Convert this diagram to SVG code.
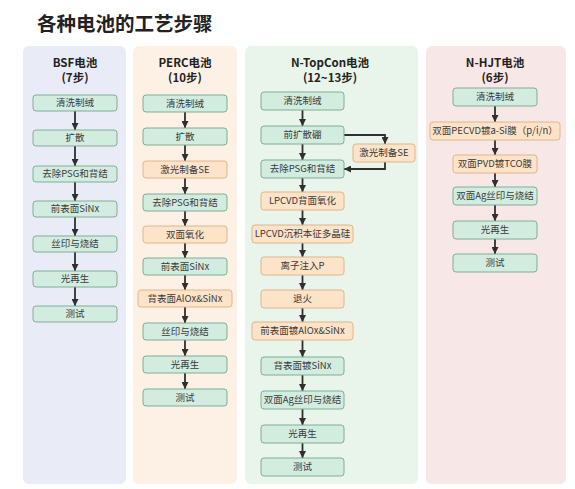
<svg xmlns="http://www.w3.org/2000/svg" width="575" height="489" viewBox="0 0 575 489">
<defs>
<marker id="ah" viewBox="0 0 10 10" refX="10" refY="5" markerWidth="7" markerHeight="7" orient="auto" markerUnits="userSpaceOnUse">
<path d="M0,0 L10,5 L0,10 z" fill="#2f2f2f"/>
</marker>
<style>
.t{font-family:"Noto Sans CJK SC","Liberation Sans",sans-serif;fill:#3a3a3a;font-size:9.5px;text-anchor:middle}
.h{font-family:"Noto Sans CJK SC","Liberation Sans",sans-serif;fill:#222;font-size:11.5px;font-weight:bold;text-anchor:middle}
.g{fill:#d3ece0;stroke:#7fae95;stroke-width:1}
.o{fill:#fde3c8;stroke:#e2b48a;stroke-width:1}
.c line,.c polyline{stroke:#2f2f2f;stroke-width:1.8;fill:none;marker-end:url(#ah)}
</style>
</defs>
<rect width="575" height="489" fill="#fff"/>
<text x="37" y="31" style="font-family:'Noto Sans CJK SC',sans-serif;font-size:19.5px;font-weight:bold;fill:#222">各种电池的工艺步骤</text>

<g id="panels">
<rect x="23" y="46" width="103" height="438" rx="6" fill="#e9ecf7"/>
<rect x="133" y="46" width="104" height="438" rx="6" fill="#fdf1e6"/>
<rect x="245" y="46" width="173" height="438" rx="6" fill="#e9f4ea"/>
<rect x="426" y="46" width="140" height="438" rx="6" fill="#f8e7e7"/>
<text class="h" x="75" y="67">BSF电池</text><text class="h" x="75" y="82">(7步)</text>
<text class="h" x="185" y="67">PERC电池</text><text class="h" x="185" y="82">(10步)</text>
<text class="h" x="330" y="67">N-TopCon电池</text><text class="h" x="330" y="82">(12~13步)</text>
<text class="h" x="495" y="67">N-HJT电池</text><text class="h" x="495" y="82">(6步)</text>
</g>

<g class="c" id="connectors">
<line x1="75" y1="111" x2="75" y2="130"/>
<line x1="75" y1="146" x2="75" y2="166"/>
<line x1="75" y1="182" x2="75" y2="201"/>
<line x1="75" y1="217" x2="75" y2="236"/>
<line x1="75" y1="252" x2="75" y2="271"/>
<line x1="75" y1="287" x2="75" y2="306"/>
<line x1="185" y1="112" x2="185" y2="128"/>
<line x1="185" y1="145" x2="185" y2="161"/>
<line x1="185" y1="178" x2="185" y2="194"/>
<line x1="185" y1="211" x2="185" y2="226"/>
<line x1="185" y1="243" x2="185" y2="258"/>
<line x1="185" y1="275" x2="185" y2="290"/>
<line x1="185" y1="307" x2="185" y2="323"/>
<line x1="185" y1="340" x2="185" y2="356"/>
<line x1="185" y1="373" x2="185" y2="389"/>
<line x1="302.5" y1="110" x2="302.5" y2="126"/>
<line x1="302.5" y1="144" x2="302.5" y2="160"/>
<polyline points="344,135 385,135 385,144"/>
<polyline points="385,162 385,169 344,169"/>
<line x1="302.5" y1="178" x2="302.5" y2="192"/>
<line x1="302.5" y1="210" x2="302.5" y2="225"/>
<line x1="302.5" y1="243" x2="302.5" y2="257"/>
<line x1="302.5" y1="275" x2="302.5" y2="290"/>
<line x1="302.5" y1="308" x2="302.5" y2="322"/>
<line x1="302.5" y1="340" x2="302.5" y2="357"/>
<line x1="302.5" y1="375" x2="302.5" y2="391"/>
<line x1="302.5" y1="409" x2="302.5" y2="425"/>
<line x1="302.5" y1="443" x2="302.5" y2="458"/>
<line x1="495" y1="106" x2="495" y2="122"/>
<line x1="495" y1="140" x2="495" y2="155"/>
<line x1="495" y1="173" x2="495" y2="187"/>
<line x1="495" y1="205" x2="495" y2="221"/>
<line x1="495" y1="239" x2="495" y2="254"/>
</g>

<g id="bsf1"><rect class="g" x="33" y="95" width="84" height="16" rx="3"/><text class="t" x="75" y="106.3">清洗制绒</text></g>
<g id="bsf2"><rect class="g" x="33" y="130" width="84" height="16" rx="3"/><text class="t" x="75" y="141.3">扩散</text></g>
<g id="bsf3"><rect class="g" x="33" y="166" width="84" height="16" rx="3"/><text class="t" x="75" y="177.3">去除PSG和背结</text></g>
<g id="bsf4"><rect class="g" x="33" y="201" width="84" height="16" rx="3"/><text class="t" x="75" y="212.3">前表面SiNx</text></g>
<g id="bsf5"><rect class="g" x="33" y="236" width="84" height="16" rx="3"/><text class="t" x="75" y="247.3">丝印与烧结</text></g>
<g id="bsf6"><rect class="g" x="33" y="271" width="84" height="16" rx="3"/><text class="t" x="75" y="282.3">光再生</text></g>
<g id="bsf7"><rect class="g" x="33" y="306" width="84" height="16" rx="3"/><text class="t" x="75" y="317.3">测试</text></g>

<g id="perc1"><rect class="g" x="143" y="95" width="84" height="17" rx="3"/><text class="t" x="185" y="106.8">清洗制绒</text></g>
<g id="perc2"><rect class="g" x="143" y="128" width="84" height="17" rx="3"/><text class="t" x="185" y="139.8">扩散</text></g>
<g id="perc3"><rect class="o" x="143" y="161" width="84" height="17" rx="3"/><text class="t" x="185" y="172.8">激光制备SE</text></g>
<g id="perc4"><rect class="g" x="143" y="194" width="84" height="17" rx="3"/><text class="t" x="185" y="205.8">去除PSG和背结</text></g>
<g id="perc5"><rect class="o" x="143" y="226" width="84" height="17" rx="3"/><text class="t" x="185" y="237.8">双面氧化</text></g>
<g id="perc6"><rect class="g" x="143" y="258" width="84" height="17" rx="3"/><text class="t" x="185" y="269.8">前表面SiNx</text></g>
<g id="perc7"><rect class="o" x="138" y="290" width="94" height="17" rx="3"/><text class="t" x="185" y="301.8">背表面AlOx&amp;SiNx</text></g>
<g id="perc8"><rect class="g" x="143" y="323" width="84" height="17" rx="3"/><text class="t" x="185" y="334.8">丝印与烧结</text></g>
<g id="perc9"><rect class="g" x="143" y="356" width="84" height="17" rx="3"/><text class="t" x="185" y="367.8">光再生</text></g>
<g id="perc10"><rect class="g" x="143" y="389" width="84" height="17" rx="3"/><text class="t" x="185" y="400.8">测试</text></g>

<g id="tc1"><rect class="g" x="261" y="92" width="83" height="18" rx="3"/><text class="t" x="302.5" y="104.3">清洗制绒</text></g>
<g id="tc2"><rect class="g" x="261" y="126" width="83" height="18" rx="3"/><text class="t" x="302.5" y="138.3">前扩散硼</text></g>
<g id="tcse"><rect class="o" x="353" y="144" width="62" height="18" rx="3"/><text class="t" x="384" y="156.3">激光制备SE</text></g>
<g id="tc3"><rect class="g" x="261" y="160" width="83" height="18" rx="3"/><text class="t" x="302.5" y="172.3">去除PSG和背结</text></g>
<g id="tc4"><rect class="o" x="261" y="192" width="83" height="18" rx="3"/><text class="t" x="302.5" y="204.3">LPCVD背面氧化</text></g>
<g id="tc5"><rect class="o" x="252" y="225" width="101" height="18" rx="3"/><text class="t" x="302.5" y="237.3">LPCVD沉积本征多晶硅</text></g>
<g id="tc6"><rect class="o" x="261" y="257" width="83" height="18" rx="3"/><text class="t" x="302.5" y="269.3">离子注入P</text></g>
<g id="tc7"><rect class="o" x="261" y="290" width="83" height="18" rx="3"/><text class="t" x="302.5" y="302.3">退火</text></g>
<g id="tc8"><rect class="o" x="252" y="322" width="101" height="18" rx="3"/><text class="t" x="302.5" y="334.3">前表面镀AlOx&amp;SiNx</text></g>
<g id="tc9"><rect class="g" x="261" y="357" width="83" height="18" rx="3"/><text class="t" x="302.5" y="369.3">背表面镀SiNx</text></g>
<g id="tc10"><rect class="g" x="261" y="391" width="83" height="18" rx="3"/><text class="t" x="302.5" y="403.3">双面Ag丝印与烧结</text></g>
<g id="tc11"><rect class="g" x="261" y="425" width="83" height="18" rx="3"/><text class="t" x="302.5" y="437.3">光再生</text></g>
<g id="tc12"><rect class="g" x="261" y="458" width="83" height="18" rx="3"/><text class="t" x="302.5" y="470.3">测试</text></g>

<g id="hjt1"><rect class="g" x="453" y="88" width="84" height="18" rx="3"/><text class="t" x="495" y="100.3">清洗制绒</text></g>
<g id="hjt2"><rect class="o" x="430" y="122" width="130" height="18" rx="3"/><text class="t" x="495" y="134.3">双面PECVD镀a-Si膜（p/i/n）</text></g>
<g id="hjt3"><rect class="o" x="453" y="155" width="84" height="18" rx="3"/><text class="t" x="495" y="167.3">双面PVD镀TCO膜</text></g>
<g id="hjt4"><rect class="g" x="453" y="187" width="84" height="18" rx="3"/><text class="t" x="495" y="199.3">双面Ag丝印与烧结</text></g>
<g id="hjt5"><rect class="g" x="453" y="221" width="84" height="18" rx="3"/><text class="t" x="495" y="233.3">光再生</text></g>
<g id="hjt6"><rect class="g" x="453" y="254" width="84" height="18" rx="3"/><text class="t" x="495" y="266.3">测试</text></g>
</svg>
